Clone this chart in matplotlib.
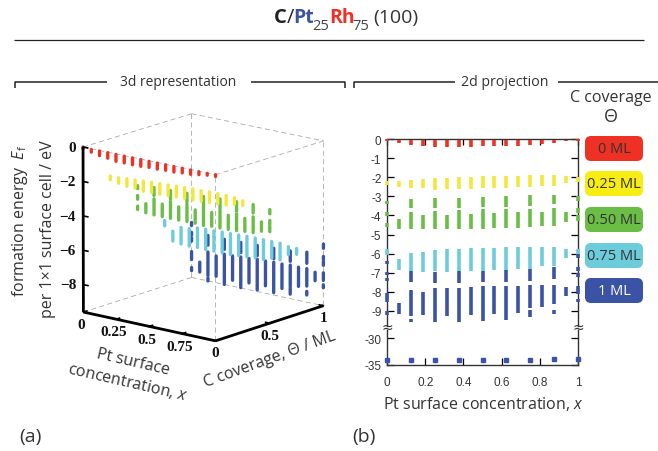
import matplotlib
matplotlib.use("Agg")
import matplotlib.pyplot as plt
from matplotlib.patches import FancyBboxPatch
from matplotlib.lines import Line2D
from mpl_toolkits.mplot3d import Axes3D  # noqa: F401

W, H = 658, 452

plt.rcParams["font.family"] = ["Open Sans", "DejaVu Sans"]
plt.rcParams["mathtext.fontset"] = "custom"
plt.rcParams["mathtext.rm"] = "Open Sans"
plt.rcParams["mathtext.it"] = "Open Sans:italic"

coverages = [0.0, 0.25, 0.5, 0.75, 1.0]
coverage_labels = ["0 ML", "0.25 ML", "0.50 ML", "0.75 ML", "1 ML"]
colors = ["#ee3124", "#f2e73a", "#6abd45", "#6dccdc", "#3a53a4"]
chip_colors = ["#ee3124", "#f7ec13", "#6abd45", "#6dccdc", "#3a53a4"]
label_colors = ["#333333", "#333333", "#333333", "#333333", "#ffffff"]

n_cols = 17
x_vals = [i / 16 for i in range(n_cols)]

# each entry: (column index, top, bottom) in eV
red = [(0, 0.0, -0.1), (1, -0.05, -0.2), (2, -0.03, -0.3), (3, -0.03, -0.35),
       (4, -0.03, -0.43), (5, -0.03, -0.42), (6, -0.03, -0.43), (7, -0.03, -0.42),
       (8, -0.03, -0.38), (9, -0.03, -0.38), (10, -0.03, -0.35), (11, -0.03, -0.35),
       (12, -0.03, -0.3), (13, -0.03, -0.28), (14, -0.03, -0.2), (15, -0.03, -0.13),
       (16, 0.0, -0.1)]
yellow = [(0, -2.18, -2.39), (1, -2.18, -2.5), (2, -2.13, -2.57), (3, -2.1, -2.57),
          (4, -2.06, -2.65), (5, -2.04, -2.63), (6, -2.01, -2.63), (7, -1.99, -2.6),
          (8, -1.96, -2.58), (9, -1.94, -2.56), (10, -1.92, -2.56), (11, -1.92, -2.53),
          (12, -1.89, -2.51), (13, -1.89, -2.48), (14, -1.9, -2.44), (15, -1.92, -2.3),
          (16, -2.0, -2.27)]
green = [(0, -3.23, -3.4), (0, -3.8, -4.02), (0, -4.42, -4.62), (1, -4.18, -4.71),
         (2, -3.13, -3.6), (2, -3.8, -4.73), (3, -4.0, -4.73),
         (4, -3.11, -3.6), (4, -3.75, -4.73), (5, -3.96, -4.73),
         (6, -3.07, -3.6), (6, -3.72, -4.71), (7, -3.93, -4.71),
         (8, -3.04, -3.58), (8, -3.68, -4.71), (9, -3.88, -4.68),
         (10, -2.99, -3.55), (10, -3.66, -4.68), (11, -3.84, -4.66),
         (12, -2.95, -3.49), (12, -3.65, -4.63), (13, -3.82, -4.57),
         (14, -2.91, -3.4), (14, -3.63, -4.54), (15, -3.82, -4.36),
         (16, -3.0, -3.25), (16, -3.63, -3.87), (16, -3.98, -4.28)]
cyan = [(0, -5.76, -6.07), (1, -6.28, -6.86), (2, -5.97, -6.93), (3, -5.93, -6.95),
        (4, -5.79, -6.93), (5, -5.76, -6.95), (6, -5.76, -6.93), (7, -5.72, -6.93),
        (8, -5.71, -6.93), (9, -5.69, -6.88), (10, -5.66, -6.86), (11, -5.66, -6.81),
        (12, -5.66, -6.81), (13, -5.66, -6.63), (14, -5.66, -6.63), (15, -5.76, -6.21),
        (16, -5.76, -6.1)]
blue = [(0, -6.37, -6.55), (0, -6.95, -7.12), (0, -7.28, -7.46), (0, -8.08, -8.55),
        (0, -9.02, -9.2), (1, -8.6, -9.18),
        (2, -6.93, -7.5), (2, -7.9, -9.28), (2, -9.42, -9.6), (3, -8.03, -9.22),
        (4, -6.95, -7.54), (4, -7.82, -9.6), (5, -7.82, -9.25),
        (6, -6.93, -7.52), (6, -7.78, -9.58), (7, -7.77, -9.2),
        (8, -6.9, -7.5), (8, -7.71, -9.51), (9, -7.71, -9.16),
        (10, -6.86, -7.47), (10, -7.68, -9.46), (11, -7.68, -9.11),
        (12, -6.81, -7.42), (12, -7.64, -8.85), (12, -8.94, -9.34), (13, -7.66, -8.78),
        (14, -6.68, -7.33), (14, -7.64, -8.66), (14, -8.97, -9.18), (15, -7.75, -8.24),
        (16, -6.0, -6.25), (16, -6.72, -6.9), (16, -7.02, -7.24), (16, -7.68, -8.12),
        (16, -8.38, -8.55)]
series = [red, yellow, green, cyan, blue]

blue_low_cols = [0, 2, 4, 6, 8, 10, 12, 14, 16]
blue_low_vals = [-34.1, -34.1, -34.1, -34.1, -34.1, -34.05, -34.0, -33.95, -33.9]

y_ticks_top = [0, -1, -2, -3, -4, -5, -6, -7, -8, -9]
y_ticks_low = [-30, -35]
x_ticks = [0, 0.2, 0.4, 0.6, 0.8, 1]
z_ticks_3d = [0, -2, -4, -6, -8]
x_ticks_3d = [0, 0.25, 0.5, 0.75]
x_tick_labels_3d = ["0", "0.25", "0.5", "0.75"]
t_ticks_3d = [0, 0.5, 1]
t_tick_labels_3d = ["0", "0.5", "1"]


def axes_px(fig, left, top, right, bottom, **kwargs):
    return fig.add_axes([left / W, 1 - bottom / H, (right - left) / W, (bottom - top) / H], **kwargs)


fig = plt.figure(figsize=(W / 100, H / 100), dpi=100)
canvas = axes_px(fig, 0, 0, W, H)
canvas.set_xlim(0, W)
canvas.set_ylim(H, 0)
canvas.axis("off")
canvas.set_zorder(5)
canvas.patch.set_alpha(0)


def line(xs, ys, lw=1.0, color="#222222"):
    canvas.add_line(Line2D(xs, ys, lw=lw, color=color, solid_capstyle="butt"))


# title pieces
title_parts = [(274, "C", "#222222", "bold", 14.5, 18), (287, "/", "#222222", "normal", 14.5, 18),
               (293, "Pt", "#3a53a4", "bold", 14, 18), (312, "25", "#444444", "normal", 10.5, 27),
               (329, "Rh", "#ee3124", "bold", 14, 18), (352, "75", "#444444", "normal", 10.5, 27),
               (373, "(100)", "#333333", "normal", 14, 18)]
for px, s, c, w, fs, py in title_parts:
    canvas.text(px, py, s, color=c, weight=w, fontsize=fs, va="center", ha="left")
line([14, 644], [41, 41], 0.9)

# section brackets
line([15, 15, 107], [89, 83, 83], 1.1)
line([251, 345, 345], [83, 83, 89], 1.1)
line([354, 354, 455], [89, 83, 83], 1.1)
line([558, 658], [83, 83], 1.1)
canvas.text(178, 83, "3d representation", fontsize=10, ha="center", va="center", color="#333333")
canvas.text(505, 83, "2d projection", fontsize=10.2, ha="center", va="center", color="#333333")
canvas.text(611, 98, "C coverage", fontsize=11.5, ha="center", va="center", color="#333333")
canvas.text(611, 117, "Θ", fontsize=13, ha="center", va="center", color="#333333")

# legend chips
chip_tops = [137, 172, 208, 244, 279]
for top, lab, col, tc in zip(chip_tops, coverage_labels, chip_colors, label_colors):
    canvas.add_patch(FancyBboxPatch((585, top), 58, 25, boxstyle="round,pad=0,rounding_size=6",
                                    fc=col, ec="none"))
    canvas.text(614, top + 12.5, lab, fontsize=10.5, ha="center", va="center", color=tc)

canvas.text(19, 437, "(a)", fontsize=14, va="center", color="#333333")
canvas.text(352, 437, "(b)", fontsize=14, va="center", color="#333333")

# 2d projection, upper part
ax_top = axes_px(fig, 387, 140, 578, 327)
ax_top.set_xlim(0, 1)
ax_top.set_ylim(-9.79, 0)
for vals, col in zip(series, colors):
    for i, y0, y1 in vals:
        ax_top.vlines(x_vals[i], y1, y0, color=col, lw=2.6, clip_on=False, zorder=3)
ax_top.set_yticks(y_ticks_top)
ax_top.set_yticklabels([str(t) for t in y_ticks_top], fontfamily="Liberation Sans", fontsize=8.5, color="#333333")
ax_top.tick_params(axis="y", direction="in", length=5, width=0.9, right=True, pad=4)
ax_top.set_xticks(x_ticks)
ax_top.tick_params(axis="x", direction="in", length=4, width=0.9, top=True, bottom=False,
                   labelbottom=False)
ax_top.spines["bottom"].set_visible(False)
for s in ["left", "right", "top"]:
    ax_top.spines[s].set_linewidth(1.0)
    ax_top.spines[s].set_color("#333333")

# 2d projection, lower part
ax_low = axes_px(fig, 387, 331, 578, 366)
ax_low.set_xlim(0, 1)
ax_low.set_ylim(-35, -28.4)
ax_low.plot([x_vals[i] for i in blue_low_cols], blue_low_vals, "s", color=colors[4], ms=3.4,
            clip_on=False, zorder=3)
ax_low.set_yticks(y_ticks_low)
ax_low.set_yticklabels([str(t) for t in y_ticks_low], fontfamily="Liberation Sans", fontsize=8.5, color="#333333")
ax_low.tick_params(axis="y", direction="in", length=5, width=0.9, right=True, pad=4)
ax_low.set_xticks(x_ticks)
ax_low.set_xticklabels([f"{t:g}" for t in x_ticks], fontfamily="Liberation Sans", fontsize=8.5, color="#333333")
ax_low.tick_params(axis="x", direction="in", length=5, width=0.9, pad=8)
ax_low.spines["top"].set_visible(False)
for s in ["left", "right", "bottom"]:
    ax_low.spines[s].set_linewidth(1.0)
    ax_low.spines[s].set_color("#333333")
for bx in [387, 578]:
    canvas.text(bx, 328, "≈", fontsize=10, ha="center", va="center", color="#333333", family="DejaVu Sans")
canvas.text(483, 404, r"Pt surface concentration, $\it{x}$", fontsize=11.5, ha="center", va="center", color="#333333")

# 3d representation
ax3 = fig.add_axes([-1 / W, 1 - 397 / H, 400 / W, 330 / H], projection="3d", computed_zorder=False)
ax3.view_init(elev=15, azim=-50.7)
ax3.set_proj_type("persp", focal_length=8)
ax3.set_box_aspect((1, 1, 1.0), zoom=0.87)
ax3.set_xlim(0, 1)
ax3.set_ylim(0, 1)
ax3.set_zlim(-9.6, 0)
ax3.set_axis_off()
ax3.patch.set_alpha(0)

edge = dict(color="#aaaaaa", lw=0.6, ls=(0, (6, 4)))
ax3.plot([0, 0], [1, 1], [-9.6, 0], **edge)
ax3.plot([0, 0], [0, 1], [-9.6, -9.6], **edge)
ax3.plot([0, 1], [1, 1], [-9.6, -9.6], **edge)
ax3.plot([0, 0], [0, 1], [0, 0], **edge)
ax3.plot([0, 1], [1, 1], [0, 0], **edge)
ax3.plot([0, 1], [0, 0], [0, 0], **edge)
ax3.plot([1, 1], [0, 1], [0, 0], **edge)
ax3.plot([1, 1], [0, 0], [-9.6, 0], **edge)
ax3.plot([1, 1], [1, 1], [-9.6, 0], **edge)

for k in [4, 3, 2, 1, 0]:
    for i, y0, y1 in series[k]:
        ax3.plot([x_vals[i], x_vals[i]], [coverages[k], coverages[k]], [y1, y0],
                 color=colors[k], lw=2.4, solid_capstyle="round")

frame = dict(color="black", lw=2.0, solid_capstyle="butt")
ax3.plot([0, 0], [0, 0], [-9.6, 0], **frame)
ax3.plot([0, 1], [0, 0], [-9.6, -9.6], **frame)
ax3.plot([1, 1], [0, 1], [-9.6, -9.6], **frame)

tick_font = dict(family="Liberation Serif", weight="bold", fontsize=11, color="#111111")
for z in z_ticks_3d:
    ax3.plot([0, 0.035], [0, 0], [z, z], color="black", lw=1.2)
    label = "0" if z == 0 else "\u2212" + str(abs(z))
    ax3.text(-0.03, -0.03, z, label, ha="right", va="center", **tick_font)
for x, lab in zip(x_ticks_3d, x_tick_labels_3d):
    ax3.plot([x, x], [0, 0.03], [-9.6, -9.6], color="black", lw=1.2)
    ax3.text(x, -0.02, -10.3, lab, ha="center", va="center", **tick_font)
for t, lab in zip(t_ticks_3d, t_tick_labels_3d):
    ax3.plot([1, 0.97], [t, t], [-9.6, -9.6], color="black", lw=1.2)
    ax3.text(1.0, t, -10.3, lab, ha="center", va="center", **tick_font)

lab3 = dict(color="#333333", ha="center", va="center")
canvas.text(20, 221, r"formation energy  $\it{E}_{\rm{f}}$", rotation=90, fontsize=11.5, **lab3)
canvas.text(48, 229, "per 1×1 surface cell / eV", rotation=90, fontsize=11.5, **lab3)
canvas.text(133, 362, "Pt surface", rotation=-13, fontsize=11.5, **lab3)
canvas.text(128, 382, r"concentration, $\it{x}$", rotation=-13, fontsize=11.5, **lab3)
canvas.text(270, 360, "C coverage, Θ / ML", rotation=20, fontsize=11.5, **lab3)

fig.savefig("out.png", dpi=100)
